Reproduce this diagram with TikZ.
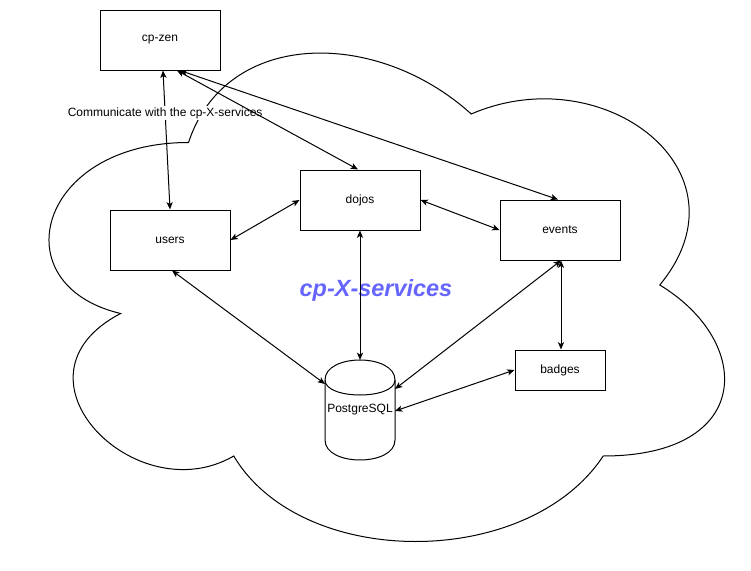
\documentclass[tikz,border=0pt]{standalone}
\usepackage{fontspec}
\setmainfont{Liberation Sans}
\usetikzlibrary{calc,arrows.meta}
\definecolor{titleblue}{RGB}{102,102,255}
\tikzset{
  box/.style={draw, fill=white, line width=0.75pt, minimum width=90pt, minimum height=45pt, inner sep=0pt, font=\fontsize{9}{11}\selectfont},
  conn/.style={line width=0.75pt, {Stealth[length=5.5pt,width=4.6pt,inset=1.4pt]}-{Stealth[length=5.5pt,width=4.6pt,inset=1.4pt]}},
  small/.style={font=\fontsize{9}{11}\selectfont}
}
\begin{document}
\begin{tikzpicture}[x=0.75pt,y=-0.75pt]
\useasboundingbox (0,0) rectangle (751,571);
% cloud
\draw[line width=0.75pt, fill=white] (188.5,142.5)
  .. controls (37.7,142.5) and (0,285) .. (120.64,313.5)
  .. controls (0,376.2) and (135.72,513) .. (233.74,456)
  .. controls (301.6,570) and (527.8,570) .. (603.2,456)
  .. controls (754,456) and (754,342) .. (659.75,285)
  .. controls (754,171) and (603.2,57) .. (471.25,114)
  .. controls (377,28.5) and (226.2,28.5) .. (188.5,142.5) -- cycle;
\node[font=\fontsize{17.6}{20}\selectfont\bfseries\itshape, text=titleblue, anchor=base, inner sep=0pt] (title) at (376,296.5) {cp-X-services};
% boxes
\node[box] (cpzen) at (160,40) {cp-zen};
\node[box] (users) at (170,240) {users};
\node[box] (dojos) at (360,200) {dojos};
\node[box] (events) at (560,230) {events};
\node[box, minimum width=67.5pt, minimum height=30pt] (badges) at (560,370) {badges};
% cylinder
\node[minimum width=52.5pt, minimum height=75pt, inner sep=0pt, outer sep=0pt, small] (pg) at (360,410) {};
\draw[line width=0.75pt, fill=white]
  ($(pg.north west)+(0,20)$) .. controls ($(pg.north west)+(0,-6.67)$) and ($(pg.north east)+(0,-6.67)$) .. ($(pg.north east)+(0,20)$)
  -- ($(pg.south east)+(0,-20)$) .. controls ($(pg.south east)+(0,6.67)$) and ($(pg.south west)+(0,6.67)$) .. ($(pg.south west)+(0,-20)$) -- cycle;
\draw[line width=0.75pt]
  ($(pg.north west)+(0,20)$) .. controls ($(pg.north west)+(0,40)$) and ($(pg.north east)+(0,40)$) .. ($(pg.north east)+(0,20)$);
\node[small, inner sep=0pt] (pgtext) at (pg.center) {PostgreSQL};
% connectors
\draw[conn] ($(cpzen.south)+(3,0)$) -- node[pos=0.307, fill=white, inner sep=1.2pt, small] (lbl) {Communicate with the cp-X-services} (users.north);
\draw[conn] ($(cpzen.south)+(17,0)$) -- ($(dojos.north)+(-2,0)$);
\draw[conn] ($(cpzen.south)+(20,0)$) -- ($(events.north)+(-2,0)$);
\draw[conn] (users.east) -- (dojos.west);
\draw[conn] (dojos.east) -- (events.west);
\draw[conn] (dojos.south) -- (pg.north);
\draw[conn] ($(users.south)+(2,0)$) -- ($(pg.west)+(0,-26)$);
\draw[conn] ($(events.south)+(1,0)$) -- ($(pg.east)+(0,-21)$);
\draw[conn] ($(events.south)+(1,0)$) -- ($(badges.north)+(1,0)$);
\draw[conn] (badges.west) -- ($(pg.east)+(0,1)$);
\end{tikzpicture}
\end{document}
